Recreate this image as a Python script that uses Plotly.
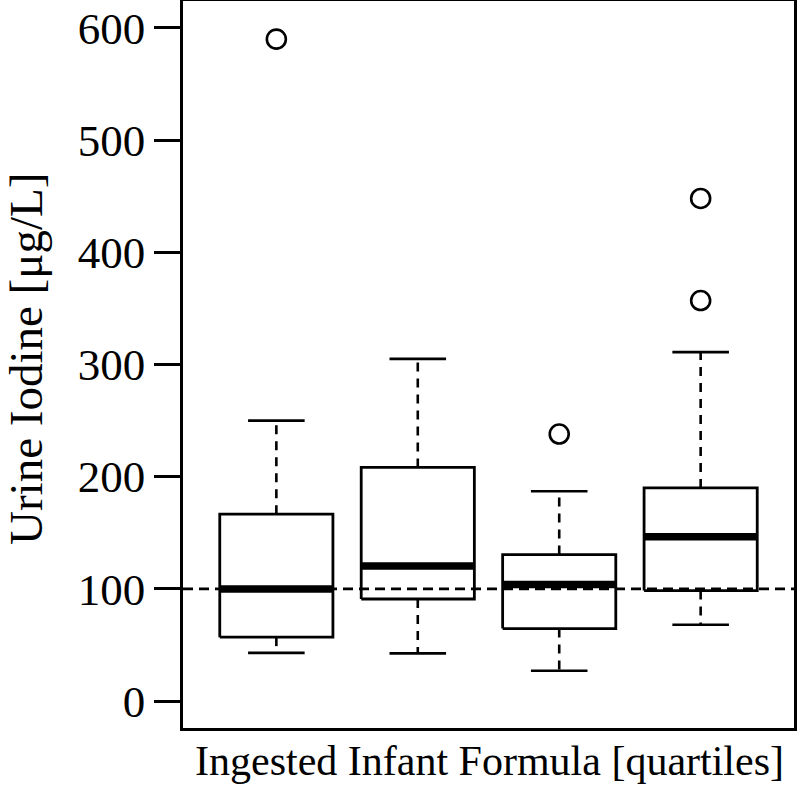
import plotly.graph_objects as go

# ---- data ----
groups = [1, 2, 3, 4]
lower_whisker = [43, 42.5, 27, 68]
q1 = [57, 91, 64.6, 98.5]
median = [100, 120.5, 104, 146.5]
q3 = [166.6, 208.3, 130.6, 190]
upper_whisker = [250, 305, 187, 311]
outliers = [[590], [], [238], [357, 448]]
reference_level = 100
y_ticks = [0, 100, 200, 300, 400, 500, 600]
y_title = "Urine Iodine [μg/L]"
x_title = "Ingested Infant Formula [quartiles]"

FONT = "Liberation Serif, Times New Roman, serif"
BOX_HALF = 0.4
CAP_HALF = 0.2

fig = go.Figure()

for g, lo, a, m, b, hi, outs in zip(groups, lower_whisker, q1, median, q3, upper_whisker, outliers):
    # whiskers (dashed)
    fig.add_trace(go.Scatter(x=[g, g, None, g, g], y=[b, hi, None, a, lo], mode="lines",
                             line=dict(color="black", width=2.6, dash="9px,7px"),
                             hoverinfo="skip", showlegend=False))
    # caps
    fig.add_trace(go.Scatter(x=[g - CAP_HALF, g + CAP_HALF, None, g - CAP_HALF, g + CAP_HALF],
                             y=[hi, hi, None, lo, lo], mode="lines",
                             line=dict(color="black", width=2.6),
                             hoverinfo="skip", showlegend=False))
    # box
    fig.add_trace(go.Scatter(x=[g - BOX_HALF, g + BOX_HALF, g + BOX_HALF, g - BOX_HALF, g - BOX_HALF],
                             y=[a, a, b, b, a], mode="lines", fill="toself", fillcolor="white",
                             line=dict(color="black", width=2.8),
                             hoverinfo="skip", showlegend=False))
    # median
    fig.add_trace(go.Scatter(x=[g - BOX_HALF, g + BOX_HALF], y=[m, m], mode="lines",
                             line=dict(color="black", width=7.5),
                             hoverinfo="skip", showlegend=False))
    # outliers
    if outs:
        fig.add_trace(go.Scatter(x=[g] * len(outs), y=outs, mode="markers",
                                 marker=dict(symbol="circle-open", size=19, color="black",
                                             line=dict(width=2.6, color="black")),
                                 hoverinfo="skip", showlegend=False))

# horizontal reference line across the plot region
fig.add_trace(go.Scatter(x=[0.34, 4.66], y=[reference_level, reference_level], mode="lines",
                         line=dict(color="black", width=2.8, dash="10px,6px"),
                         hoverinfo="skip", showlegend=False))

L, R, T, B = 183, 6, 1, 60
W, H = 800, 788
pw, ph = W - L - R, H - T - B

fig.update_layout(
    width=W, height=H,
    margin=dict(l=L, r=R, t=T, b=B, autoexpand=False),
    paper_bgcolor="white", plot_bgcolor="white",
    font=dict(family=FONT, color="black", size=44),
    showlegend=False,
    annotations=[
        dict(text=y_title, xref="paper", yref="paper",
             x=(26 - L) / pw, y=(H - B - 359) / ph, xanchor="center", yanchor="middle",
             textangle=-90, showarrow=False, font=dict(size=47, family=FONT)),
        dict(text=x_title, xref="paper", yref="paper",
             x=(489 - L) / pw, y=(H - B - 761) / ph, xanchor="center", yanchor="middle",
             showarrow=False, font=dict(size=42, family=FONT)),
    ],
)
fig.update_xaxes(range=[0.34, 4.66], showgrid=False, zeroline=False, showticklabels=False,
                 ticks="", showline=True, linecolor="black", linewidth=2.6, mirror=True,
                 automargin=False)
fig.update_yaxes(range=[-24, 624], showgrid=False, zeroline=False,
                 tickmode="array", tickvals=y_ticks, ticktext=[str(v) for v in y_ticks],
                 ticks="outside", ticklen=26, tickwidth=2.6, tickcolor="black",
                 tickfont=dict(size=45, family=FONT), ticklabelstandoff=0,
                 showline=True, linecolor="black", linewidth=2.6, mirror=True,
                 automargin=False)

fig.write_html("out.html", config={"displayModeBar": False},
               post_script="document.body.style.margin='0';document.body.style.padding='0';")
